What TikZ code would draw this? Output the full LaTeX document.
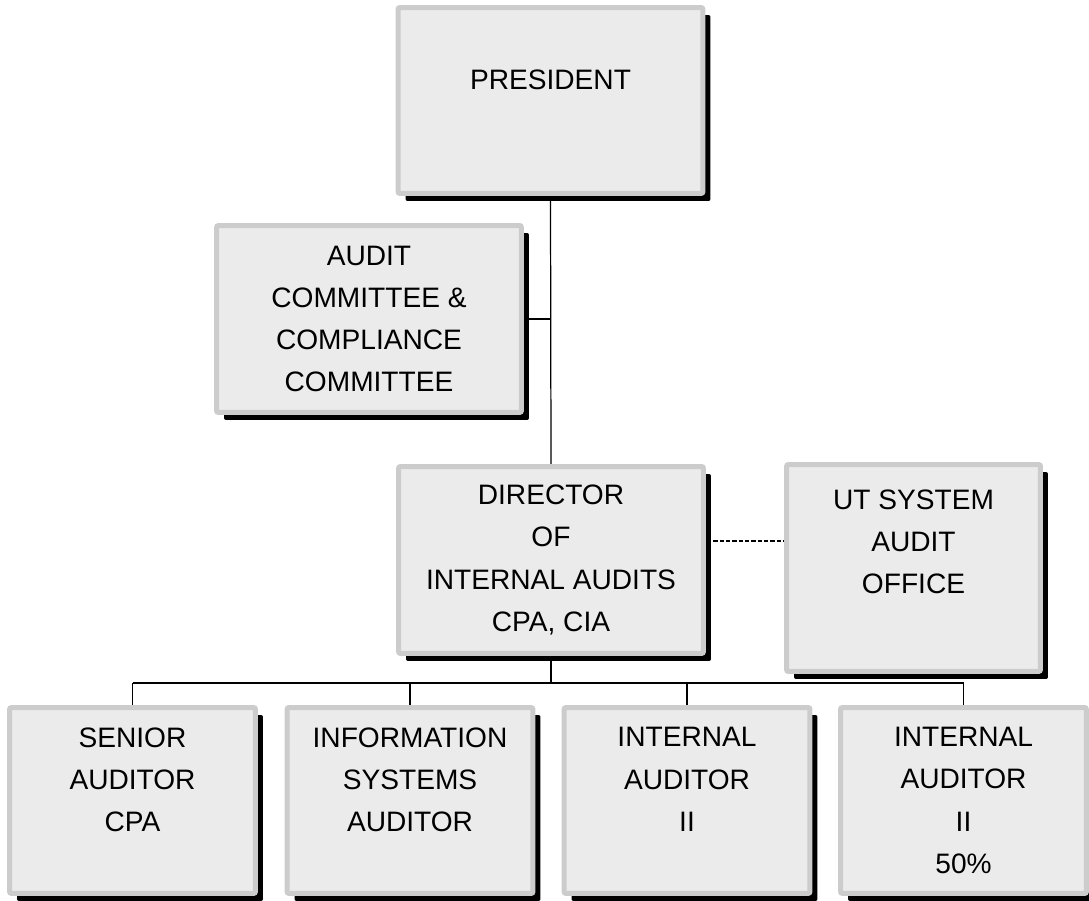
\documentclass[tikz,border=0pt]{standalone}
\usepackage{fontspec}
\setmainfont{Liberation Sans}
\usetikzlibrary{positioning, shadows, backgrounds}
\usepackage{xcolor}

\definecolor{boxline}{HTML}{CCCCCC}
\definecolor{boxfill}{HTML}{EBEBEB}

\tikzset{
  orgbox/.style={draw=boxline, fill=boxfill, line width=0.1cm, rounded corners=0.04cm,
    align=center, font=\fontsize{16}{24}\selectfont,
    general shadow={fill=black, shadow xshift=0.15cm, shadow yshift=-0.15cm}},
  widebox/.style={orgbox, minimum width=6.1cm, minimum height=3.74cm},
  lowbox/.style={orgbox, minimum width=4.92cm, minimum height=3.72cm},
  link/.style={line width=0.7pt}
}

\begin{document}
\begin{tikzpicture}[x=0.02cm, y=-0.02cm]

\useasboundingbox (0,0) rectangle (1089,901);

%top
\node [widebox, minimum height=3.72cm] (pres) at (550.5,100.5) {PRESIDENT\\ \mbox{}};
\node [widebox] (acc) at (369,319) {AUDIT\\COMMITTEE \&\\COMPLIANCE\\COMMITTEE};

%director
\node [widebox] (dir) at (551,560) {DIRECTOR\\OF\\INTERNAL AUDITS\\CPA, CIA};
\node [orgbox, minimum width=5.08cm, minimum height=4.14cm] (ut) at (913.5,568) {UT SYSTEM\\AUDIT\\OFFICE\\[0.2cm]\mbox{}};

%staff
\node [lowbox] (sa) at (132.5,800.5) {SENIOR\\AUDITOR\\CPA\\ \mbox{}};
\node [lowbox] (isa) at (410,800.5) {INFORMATION\\SYSTEMS\\AUDITOR\\ \mbox{}};
\node [lowbox] (ia) at (687,800.5) {INTERNAL\\AUDITOR\\II\\ \mbox{}};
\node [lowbox] (iah) at (963.5,800.5) {INTERNAL\\AUDITOR\\II\\50\%};

%lines
\begin{scope}[on background layer]
\draw [link] (pres.south) -- (dir.north);
\draw [link] (acc.east) -- (acc.east -| dir.north);
\draw [link] (dir.south) -- ++(0,27) coordinate (bus);
\draw [link] (sa.north |- bus) -- (iah.north |- bus);
\foreach \b in {sa, isa, ia, iah}
  \draw [link] (\b.north) -- (\b.north |- bus);
\end{scope}
\coordinate (dashl) at ([xshift=0.15cm, yshift=0.38cm]dir.east);
\draw [link, line width=0.6pt, dash pattern=on 2.4pt off 1.2pt] (dashl) -- (dashl -| ut.west);

\end{tikzpicture}
\end{document}
